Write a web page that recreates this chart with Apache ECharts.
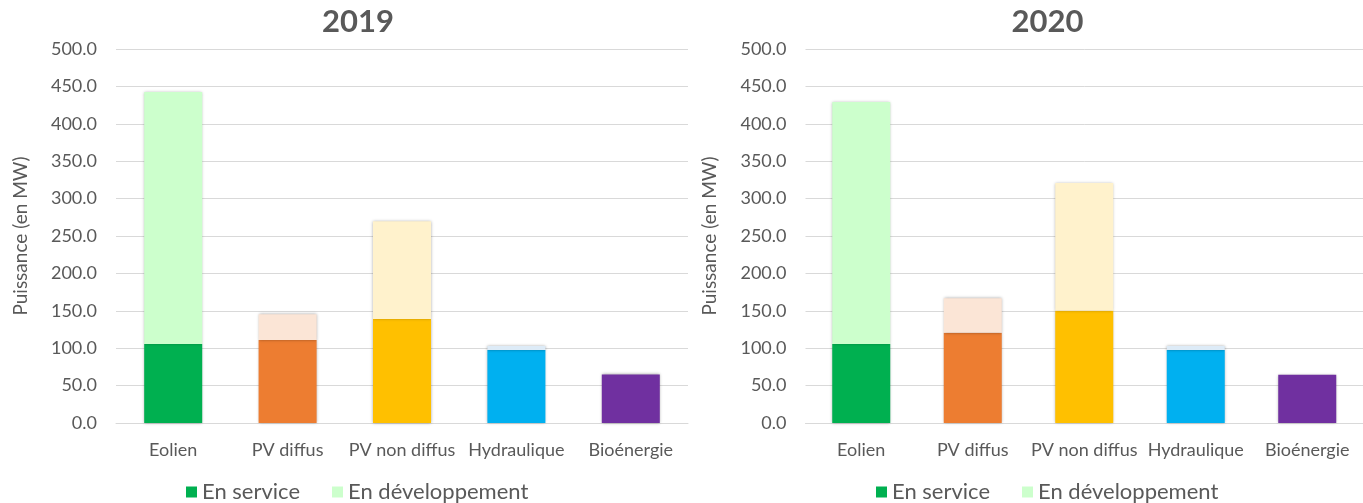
<!DOCTYPE html>
<html>
<head>
<meta charset="utf-8">
<script src="https://cdn.jsdelivr.net/npm/echarts@6/dist/echarts.min.js"></script>
<style>
  html, body { margin: 0; padding: 0; background: #fff; }
  #chart { width: 1363px; height: 503px; }
</style>
</head>
<body>
<div id="chart"></div>
<script>
// Installed capacity by source (MW): part in service and part under development
const categories = ['Eolien', 'PV diffus', 'PV non diffus', 'Hydraulique', 'Bioénergie'];
const years = ['2019', '2020'];
const service2019 = [105.6, 111.0, 139.0, 97.6, 65.0];
const dev2019 = [337.0, 34.3, 130.6, 5.4, 0];
const service2020 = [105.6, 120.7, 150.0, 97.6, 64.6];
const dev2020 = [323.4, 46.0, 171.0, 5.4, 0];
const yTicks = { min: 0, max: 500, interval: 50 };

// Per-category fill colours: solid for in service, pale for development
const serviceColors = ['#00B050', '#ED7D31', '#FFC000', '#00B0F0', '#7030A0'];
const devColors = ['#CCFFCC', '#FBE5D6', '#FFF2CC', '#DDEBF7', '#E6D9F0'];

const txt = '#595959';
const font = 'Lato, "Open Sans", sans-serif';

const barShadow = { shadowBlur: 3, shadowColor: 'rgba(0,0,0,0.35)', shadowOffsetX: 0, shadowOffsetY: 0 };

function coloured(values, colors) {
  // empty segments get no shadow so they leave no trace on top of the stack
  return values.map((v, i) => ({
    value: v,
    itemStyle: v > 0 ? { color: colors[i] } : { color: colors[i], shadowBlur: 0, opacity: 0 }
  }));
}

const gridLefts = [116, 805.5];

const option = {
  backgroundColor: '#fff',
  animation: false,
  textStyle: { fontFamily: font },
  title: years.map((y, k) => ({
    text: y,
    left: gridLefts[k] + 237,
    top: 1,
    textAlign: 'center',
    textStyle: { fontSize: 31, fontWeight: 'bold', color: txt, fontFamily: font }
  })),
  legend: [181, 871].map(x => ({
    left: x,
    top: 476,
    icon: 'rect',
    itemWidth: 11,
    itemHeight: 11,
    itemGap: 32,
    data: ['En service', 'En développement'],
    textStyle: { fontSize: 22, color: txt, fontFamily: font }
  })),
  grid: gridLefts.map(l => ({ left: l, width: 572, top: 49, height: 374 })),
  xAxis: [0, 1].map(k => ({
    type: 'category',
    gridIndex: k,
    data: categories,
    axisLine: { lineStyle: { color: '#d9d9d9', width: 1 } },
    axisTick: { show: false },
    axisLabel: { color: txt, fontSize: 18, margin: 18, interval: 0, fontFamily: font }
  })),
  yAxis: [0, 1].map(k => ({
    type: 'value',
    gridIndex: k,
    min: yTicks.min,
    max: yTicks.max,
    interval: yTicks.interval,
    name: 'Puissance (en MW)',
    nameLocation: 'middle',
    nameRotate: 90,
    nameGap: 86,
    nameTextStyle: { fontSize: 19, color: txt, fontFamily: font },
    axisLine: { show: false },
    axisTick: { show: false },
    splitLine: { lineStyle: { color: '#d9d9d9', width: 1 } },
    axisLabel: { color: txt, fontSize: 18, margin: 19, formatter: v => v.toFixed(1), fontFamily: font }
  })),
  series: [
    [service2019, dev2019],
    [service2020, dev2020]
  ].flatMap(([svc, dev], k) => [
    {
      name: 'En service', type: 'bar', stack: 'y' + k,
      xAxisIndex: k, yAxisIndex: k, barWidth: 58,
      itemStyle: Object.assign({ color: '#00B050' }, barShadow),
      data: coloured(svc, serviceColors)
    },
    {
      name: 'En développement', type: 'bar', stack: 'y' + k,
      xAxisIndex: k, yAxisIndex: k, barWidth: 58,
      itemStyle: Object.assign({ color: '#CCFFCC' }, barShadow),
      data: coloured(dev, devColors)
    }
  ])
};

echarts.init(document.getElementById('chart'), null, { renderer: 'canvas' }).setOption(option);
</script>
</body>
</html>
